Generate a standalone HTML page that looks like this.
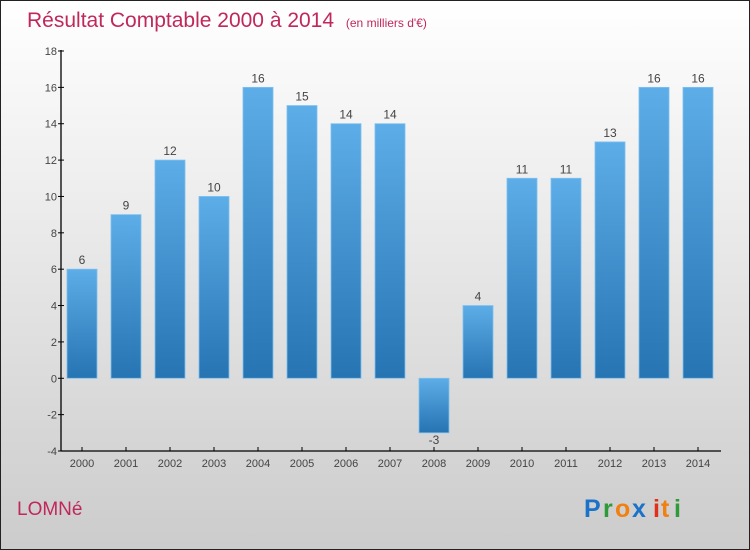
<!DOCTYPE html>
<html><head><meta charset="utf-8"><style>
body{margin:0;}
#c{width:748px;height:548px;border:1px solid #222;position:relative;background:linear-gradient(#ffffff 0%,#f0f0f0 30%,#d8d8d8 75%,#cccccc 100%);overflow:hidden;font-family:"Liberation Sans",sans-serif;}
</style></head><body>
<div id="c">
<svg width="748" height="548" xmlns="http://www.w3.org/2000/svg" id="svg">
<defs><linearGradient id="bg" x1="0" y1="0" x2="0" y2="1"><stop offset="0" stop-color="#5dade8"/><stop offset="1" stop-color="#2674b2"/></linearGradient></defs>
<text x="26" y="26" font-size="21" fill="#c0285a">Résultat Comptable 2000 à 2014 <tspan font-size="12" dx="6">(en milliers d'€)</tspan></text>
<text x="16" y="514" font-size="19" fill="#c0285a">LOMNé</text>
<g font-size="25" font-weight="bold"><text x="583" y="516" fill="#1a73c8">P</text><text x="602" y="516" fill="#2e9a3a">r</text><text x="614" y="516" fill="#f08010">o</text><text x="631" y="516" fill="#1a73c8">x</text><text x="652" y="516" fill="#e0301a">i</text><text x="660" y="516" fill="#f08010">t</text><text x="673" y="516" fill="#2e9a3a">i</text></g>
<g id="plot"></g>
</svg>
</div>
<script>
const years=["2000","2001","2002","2003","2004","2005","2006","2007","2008","2009","2010","2011","2012","2013","2014"];
const values=[6,9,12,10,16,15,14,14,-3,4,11,11,13,16,16];
const yTicks=[-4,-2,0,2,4,6,8,10,12,14,16,18];
const NS="http://www.w3.org/2000/svg";
const g=document.getElementById('plot');
const y=v=>50+(18-v)*400/22;
const x=i=>81+i*44;
function mk(t,a){const e=document.createElementNS(NS,t);for(const k in a)e.setAttribute(k,a[k]);g.appendChild(e);return e;}
let ax=mk('line',{x1:60,y1:49,x2:60,y2:450,stroke:'#000','stroke-width':1.3});


let bx=mk('line',{x1:60,y1:450,x2:720,y2:450,stroke:'#000','stroke-width':1.3});


yTicks.forEach(v=>{
 mk('line',{x1:57,x2:63,y1:y(v),y2:y(v),stroke:'#000'});
 const t=mk('text',{x:56,y:y(v)+4,'text-anchor':'end','font-size':11,fill:'#444'});t.textContent=v;
 
 
});
years.forEach((yr,i)=>{
 const v=values[i];const top=Math.min(y(v),y(0)),h=Math.abs(y(v)-y(0));
 const r=mk('rect',{x:x(i)-15,y:top,width:30,height:h,fill:'url(#bg)',stroke:'#7fc0ee','stroke-width':0.8});
 
 
 const l=mk('text',{x:x(i),y:v>=0?y(v)-5:y(v)+11,'text-anchor':'middle','font-size':12,fill:'#444'});l.textContent=v;
 
 
 mk('line',{x1:x(i),x2:x(i),y1:446,y2:450,stroke:'#000'});
 const xl=mk('text',{x:x(i),y:466,'text-anchor':'middle','font-size':11,fill:'#444'});xl.textContent=yr;
 
 
});
</script>
</body></html>
